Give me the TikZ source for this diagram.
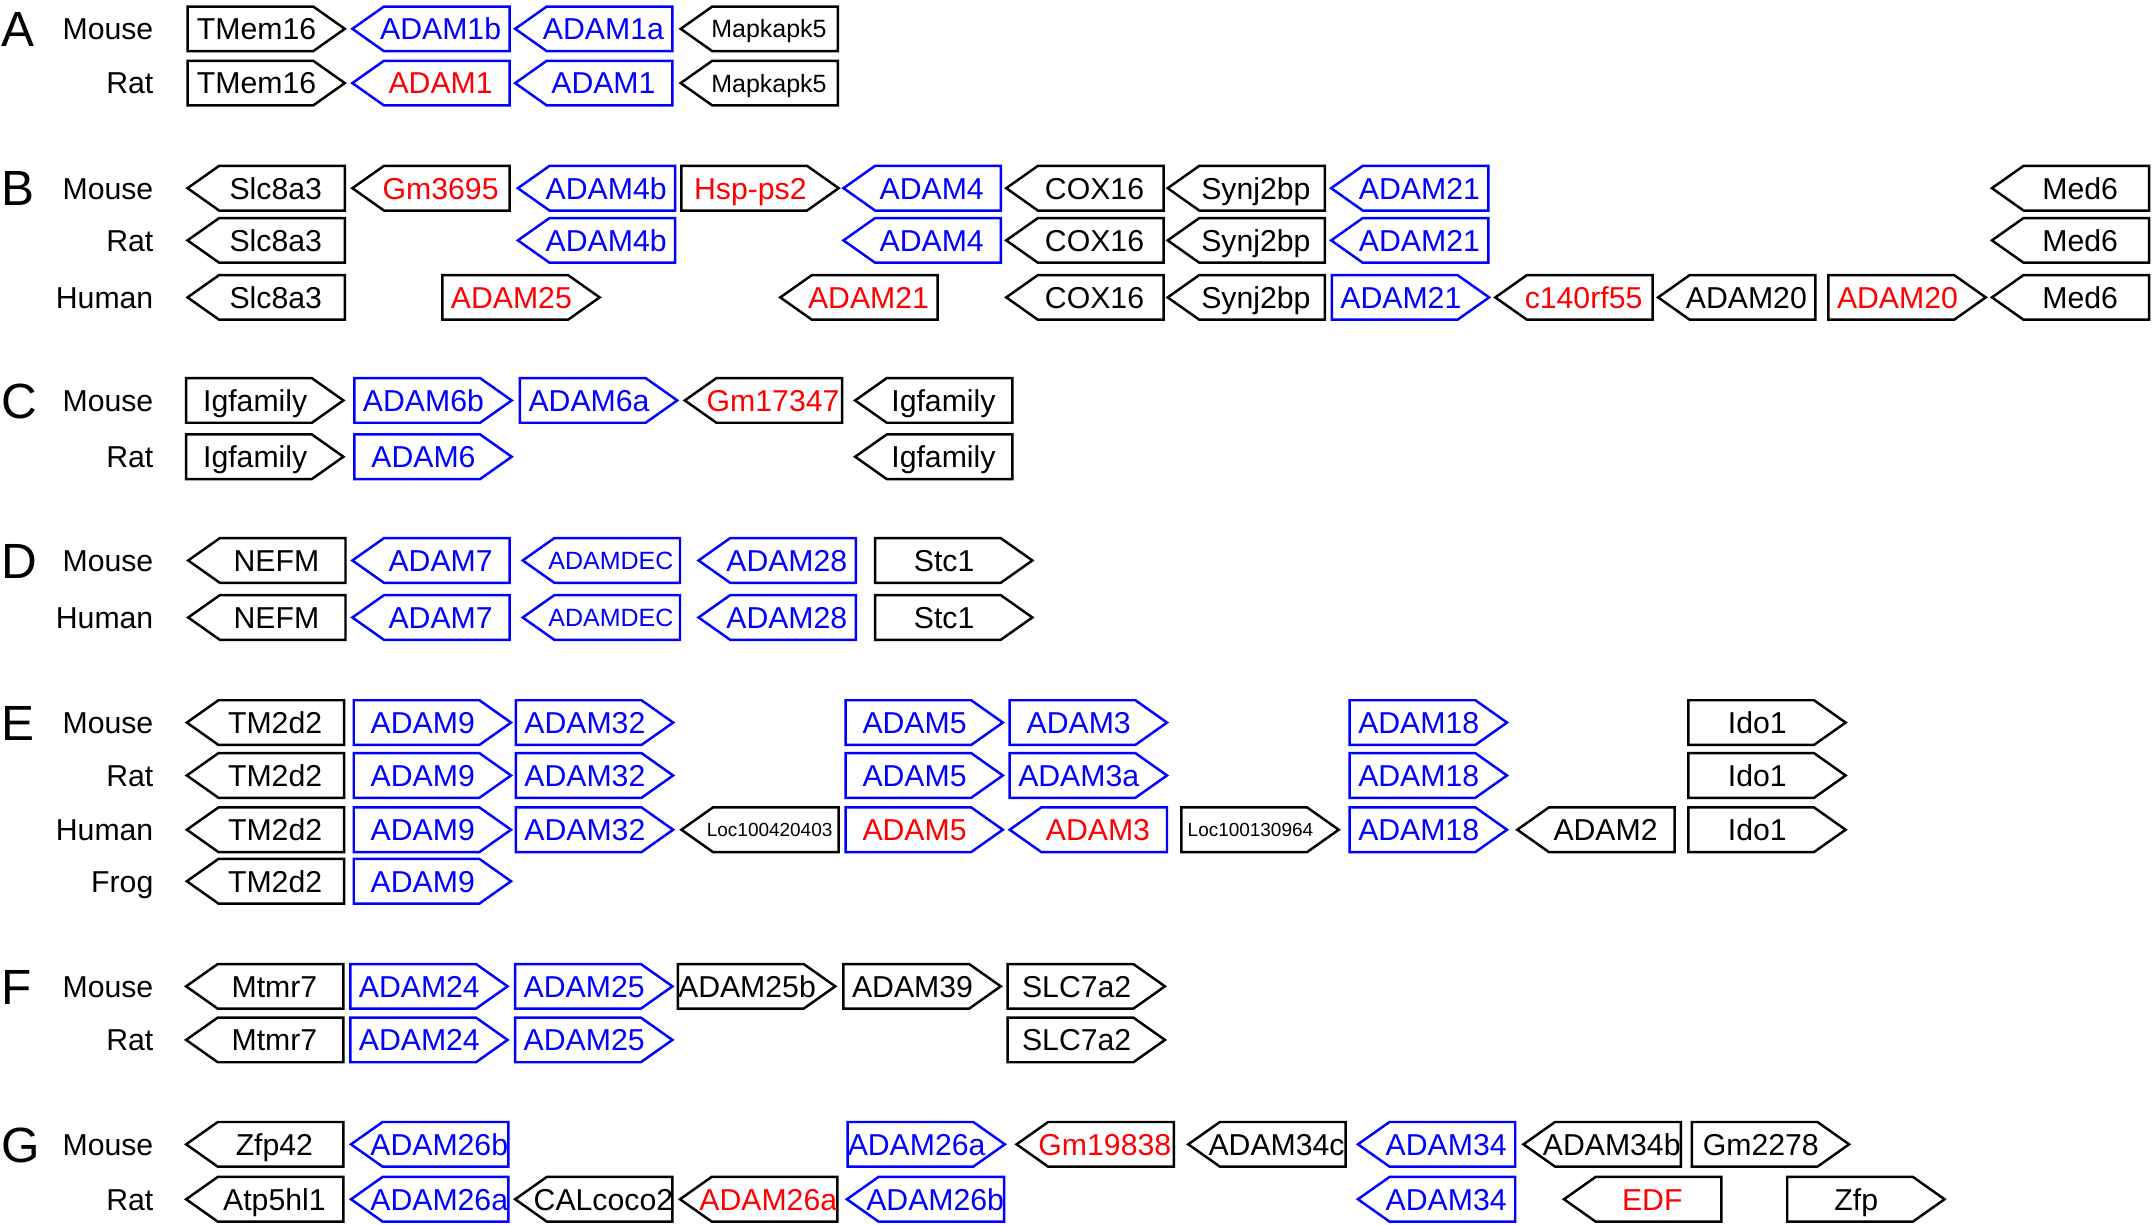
\documentclass[tikz,border=0pt]{standalone}
\usepackage{fontspec}
\setmainfont{Liberation Sans}
\usepackage{tikz}

% gene box sizes (picture units)
\newcommand{\gw}{114.5}
\newcommand{\gh}{16.25}
\newcommand{\gt}{23}
\newcommand{\goff}{7}

% gene pointing right: [font] name x y outline textcolour label
\newcommand{\geneR}[7][gtxt]{%
  \draw[gbox, draw=#5] ({#3},{#4-\gh}) -- ({#3+\gw-\gt},{#4-\gh}) -- ({#3+\gw},{#4})
    -- ({#3+\gw-\gt},{#4+\gh}) -- ({#3},{#4+\gh}) -- cycle;
  \node[#1, text=#6] (#2) at ({#3+\gw/2-\goff},{#4}) {#7};}
% gene pointing left
\newcommand{\geneL}[7][gtxt]{%
  \draw[gbox, draw=#5] ({#3},{#4}) -- ({#3+\gt},{#4-\gh}) -- ({#3+\gw},{#4-\gh})
    -- ({#3+\gw},{#4+\gh}) -- ({#3+\gt},{#4+\gh}) -- cycle;
  \node[#1, text=#6] (#2) at ({#3+\gw/2+\goff},{#4}) {#7};}

\begin{document}
\begin{tikzpicture}[
        x=0.5pt, y=-0.5pt,
        gbox/.style={line width=0.9pt},
        gtxt/.style={inner sep=0pt, font=\fontsize{11}{13}\selectfont, text height=7.9pt, text depth=0pt},
        gsm/.style={inner sep=0pt, font=\fontsize{9.1}{11}\selectfont, text height=6.5pt, text depth=0pt},
        gtiny/.style={inner sep=0pt, font=\fontsize{6.9}{8}\selectfont, text height=5pt, text depth=0pt},
        spc/.style={anchor=east, inner sep=0pt, font=\fontsize{11}{13}\selectfont, text height=7.9pt, text depth=0pt},
        pnl/.style={anchor=west, inner sep=0pt, font=\fontsize{18}{20}\selectfont, text height=12.9pt, text depth=0pt}
    ]
    \useasboundingbox (0,0) rectangle (1568,891.7);

    % A
    \node (pA) [pnl] at (1,21) {A};
    \node (aMouse) [spc] at (112,21) {Mouse};
    \node (aRat) [spc] at (112,60.5) {Rat};
    \geneR{aM1}{136.5}{21}{black}{black}{TMem16}
    \geneL{aM2}{256.5}{21}{blue}{blue}{ADAM1b}
    \geneL{aM3}{375}{21}{blue}{blue}{ADAM1a}
    \geneL[gsm]{aM4}{495.5}{21}{black}{black}{Mapkapk5}
    \geneR{aR1}{136.5}{60.5}{black}{black}{TMem16}
    \geneL{aR2}{256.5}{60.5}{blue}{red}{ADAM1}
    \geneL{aR3}{375}{60.5}{blue}{blue}{ADAM1}
    \geneL[gsm]{aR4}{495.5}{60.5}{black}{black}{Mapkapk5}

    % B
    \node (pB) [pnl] at (1,137) {B};
    \node (bMouse) [spc] at (112,137) {Mouse};
    \node (bRat) [spc] at (112,175) {Rat};
    \node (bHuman) [spc] at (112,216.5) {Human};
    \geneL{bM1}{136.5}{137}{black}{black}{Slc8a3}
    \geneL{bM2}{256.5}{137}{black}{red}{Gm3695}
    \geneL{bM3}{377}{137}{blue}{blue}{ADAM4b}
    \geneR{bM4}{496}{137}{black}{red}{Hsp-ps2}
    \geneL{bM5}{614}{137}{blue}{blue}{ADAM4}
    \geneL{bM6}{732.5}{137}{black}{black}{COX16}
    \geneL{bM7}{850}{137}{black}{black}{Synj2bp}
    \geneL{bM8}{969}{137}{blue}{blue}{ADAM21}
    \geneL{bM9}{1450}{137}{black}{black}{Med6}
    \geneL{bR1}{136.5}{175}{black}{black}{Slc8a3}
    \geneL{bR2}{377}{175}{blue}{blue}{ADAM4b}
    \geneL{bR3}{614}{175}{blue}{blue}{ADAM4}
    \geneL{bR4}{732.5}{175}{black}{black}{COX16}
    \geneL{bR5}{850}{175}{black}{black}{Synj2bp}
    \geneL{bR6}{969}{175}{blue}{blue}{ADAM21}
    \geneL{bR7}{1450}{175}{black}{black}{Med6}
    \geneL{bH1}{136.5}{216.5}{black}{black}{Slc8a3}
    \geneR{bH2}{322}{216.5}{black}{red}{ADAM25}
    \geneL{bH3}{568}{216.5}{black}{red}{ADAM21}
    \geneL{bH4}{732.5}{216.5}{black}{black}{COX16}
    \geneL{bH5}{850}{216.5}{black}{black}{Synj2bp}
    \geneR{bH6}{969.5}{216.5}{blue}{blue}{ADAM21}
    \geneL{bH7}{1088.5}{216.5}{black}{red}{c140rf55}
    \geneL{bH8}{1207}{216.5}{black}{black}{ADAM20}
    \geneR{bH9}{1331}{216.5}{black}{red}{ADAM20}
    \geneL{bH10}{1450}{216.5}{black}{black}{Med6}

    % C
    \node (pC) [pnl] at (1,291.5) {C};
    \node (cMouse) [spc] at (112,291.5) {Mouse};
    \node (cRat) [spc] at (112,332.5) {Rat};
    \geneR{cM1}{135.5}{291.5}{black}{black}{Igfamily}
    \geneR{cM2}{258}{291.5}{blue}{blue}{ADAM6b}
    \geneR{cM3}{378.5}{291.5}{blue}{blue}{ADAM6a}
    \geneL{cM4}{498.5}{291.5}{black}{red}{Gm17347}
    \geneL{cM5}{622.5}{291.5}{black}{black}{Igfamily}
    \geneR{cR1}{135.5}{332.5}{black}{black}{Igfamily}
    \geneR{cR2}{258}{332.5}{blue}{blue}{ADAM6}
    \geneL{cR3}{622.5}{332.5}{black}{black}{Igfamily}

    % D
    \node (pD) [pnl] at (1,408) {D};
    \node (dMouse) [spc] at (112,408) {Mouse};
    \node (dHuman) [spc] at (112,449.5) {Human};
    \geneL{dM1}{137}{408}{black}{black}{NEFM}
    \geneL{dM2}{256.5}{408}{blue}{blue}{ADAM7}
    \geneL[gsm]{dM3}{380.5}{408}{blue}{blue}{ADAMDEC}
    \geneL{dM4}{508.5}{408}{blue}{blue}{ADAM28}
    \geneR{dM5}{637}{408}{black}{black}{Stc1}
    \geneL{dH1}{137}{449.5}{black}{black}{NEFM}
    \geneL{dH2}{256.5}{449.5}{blue}{blue}{ADAM7}
    \geneL[gsm]{dH3}{380.5}{449.5}{blue}{blue}{ADAMDEC}
    \geneL{dH4}{508.5}{449.5}{blue}{blue}{ADAM28}
    \geneR{dH5}{637}{449.5}{black}{black}{Stc1}

    % E
    \node (pE) [pnl] at (1,526) {E};
    \node (eMouse) [spc] at (112,526) {Mouse};
    \node (eRat) [spc] at (112,564.5) {Rat};
    \node (eHuman) [spc] at (112,604) {Human};
    \node (eFrog) [spc] at (112,641.5) {Frog};
    \geneL{eM1}{136}{526}{black}{black}{TM2d2}
    \geneR{eM2}{257.5}{526}{blue}{blue}{ADAM9}
    \geneR{eM3}{375.5}{526}{blue}{blue}{ADAM32}
    \geneR{eM4}{615.5}{526}{blue}{blue}{ADAM5}
    \geneR{eM5}{735}{526}{blue}{blue}{ADAM3}
    \geneR{eM6}{982.5}{526}{blue}{blue}{ADAM18}
    \geneR{eM7}{1229}{526}{black}{black}{Ido1}
    \geneL{eR1}{136}{564.5}{black}{black}{TM2d2}
    \geneR{eR2}{257.5}{564.5}{blue}{blue}{ADAM9}
    \geneR{eR3}{375.5}{564.5}{blue}{blue}{ADAM32}
    \geneR{eR4}{615.5}{564.5}{blue}{blue}{ADAM5}
    \geneR{eR5}{735}{564.5}{blue}{blue}{ADAM3a}
    \geneR{eR6}{982.5}{564.5}{blue}{blue}{ADAM18}
    \geneR{eR7}{1229}{564.5}{black}{black}{Ido1}
    \geneL{eH1}{136}{604}{black}{black}{TM2d2}
    \geneR{eH2}{257.5}{604}{blue}{blue}{ADAM9}
    \geneR{eH3}{375.5}{604}{blue}{blue}{ADAM32}
    \geneL[gtiny]{eH4}{496}{604}{black}{black}{Loc100420403}
    \geneR{eH5}{615.5}{604}{blue}{red}{ADAM5}
    \geneL{eH6}{735}{604}{blue}{red}{ADAM3}
    \geneR[gtiny]{eH7}{860}{604}{black}{black}{Loc100130964}
    \geneR{eH8}{982.5}{604}{blue}{blue}{ADAM18}
    \geneL{eH9}{1104.5}{604}{black}{black}{ADAM2}
    \geneR{eH10}{1229}{604}{black}{black}{Ido1}
    \geneL{eF1}{136}{641.5}{black}{black}{TM2d2}
    \geneR{eF2}{257.5}{641.5}{blue}{blue}{ADAM9}

    % F
    \node (pF) [pnl] at (1,718) {F};
    \node (fMouse) [spc] at (112,718) {Mouse};
    \node (fRat) [spc] at (112,757) {Rat};
    \geneL{fM1}{135.5}{718}{black}{black}{Mtmr7}
    \geneR{fM2}{255}{718}{blue}{blue}{ADAM24}
    \geneR{fM3}{375}{718}{blue}{blue}{ADAM25}
    \geneR{fM4}{493.5}{718}{black}{black}{ADAM25b}
    \geneR{fM5}{614}{718}{black}{black}{ADAM39}
    \geneR{fM6}{733.5}{718}{black}{black}{SLC7a2}
    \geneL{fR1}{135.5}{757}{black}{black}{Mtmr7}
    \geneR{fR2}{255}{757}{blue}{blue}{ADAM24}
    \geneR{fR3}{375}{757}{blue}{blue}{ADAM25}
    \geneR{fR4}{733.5}{757}{black}{black}{SLC7a2}

    % G
    \node (pG) [pnl] at (1,833) {G};
    \node (gMouse) [spc] at (112,833) {Mouse};
    \node (gRat) [spc] at (112,873) {Rat};
    \geneL{gM1}{135.5}{833}{black}{black}{Zfp42}
    \geneL{gM2}{255.5}{833}{blue}{blue}{ADAM26b}
    \geneR{gM3}{617}{833}{blue}{blue}{ADAM26a}
    \geneL{gM4}{740}{833}{black}{red}{Gm19838}
    \geneL{gM5}{865}{833}{black}{black}{ADAM34c}
    \geneL{gM6}{988.5}{833}{blue}{blue}{ADAM34}
    \geneL{gM7}{1109}{833}{black}{black}{ADAM34b}
    \geneR{gM8}{1231.5}{833}{black}{black}{Gm2278}
    \geneL{gR1}{135.5}{873}{black}{black}{Atp5hl1}
    \geneL{gR2}{255.5}{873}{blue}{blue}{ADAM26a}
    \geneL{gR3}{375}{873}{black}{black}{CALcoco2}
    \geneL{gR4}{495}{873}{black}{red}{ADAM26a}
    \geneL{gR5}{616.5}{873}{blue}{blue}{ADAM26b}
    \geneL{gR6}{988.5}{873}{blue}{blue}{ADAM34}
    \geneL{gR7}{1138.5}{873}{black}{red}{EDF}
    \geneR{gR8}{1301}{873}{black}{black}{Zfp}

\end{tikzpicture}
\end{document}
